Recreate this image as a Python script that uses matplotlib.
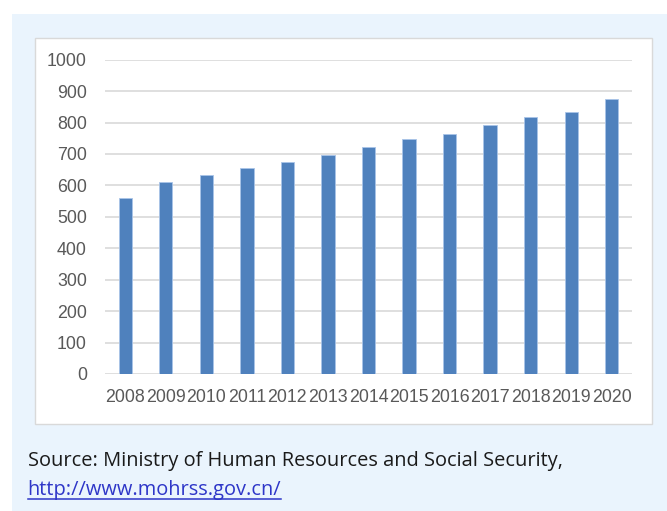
import matplotlib
matplotlib.use("Agg")
import matplotlib.pyplot as plt
from matplotlib.patches import Rectangle
from matplotlib.lines import Line2D

# Data
years = ["2008", "2009", "2010", "2011", "2012", "2013", "2014",
         "2015", "2016", "2017", "2018", "2019", "2020"]
values = [561, 612, 632, 655, 676, 698, 722, 749, 765, 791, 818, 833, 875]
yticks = [0, 100, 200, 300, 400, 500, 600, 700, 800, 900, 1000]

W, H = 667, 511
fig = plt.figure(figsize=(W / 100, H / 100), dpi=100)
fig.patch.set_facecolor("white")

# light blue panel and white chart box (pixel coords -> figure fraction)
def px_rect(x0, y0, x1, y1, **kw):
    return Rectangle((x0 / W, 1 - y1 / H), (x1 - x0) / W, (y1 - y0) / H,
                     transform=fig.transFigure, **kw)

fig.patches.append(px_rect(12, 14, 667, 511, facecolor="#EAF4FD", edgecolor="none", zorder=0))
fig.patches.append(px_rect(34.5, 37.5, 651.5, 423.5, facecolor="white",
                           edgecolor="#D9D9D9", linewidth=1, zorder=1))

ax = fig.add_axes([105 / W, 1 - 374 / H, (632 - 105) / W, (374 - 59.7) / H])
ax.set_facecolor("none")
ax.set_zorder(2)

x = list(range(len(years)))
ax.bar(x, values, width=0.33, color="#4F81BD", edgecolor="#A9C4E8",
       linewidth=0.6, zorder=3)

ax.set_xlim(-0.5, len(years) - 0.5)
ax.set_ylim(0, 1000)
ax.set_yticks(yticks)
ax.set_xticks(x)
ax.set_xticklabels(years)
ax.yaxis.grid(True, color="#D9D9D9", linewidth=1.2)
ax.set_axisbelow(True)
for s in ax.spines.values():
    s.set_visible(False)
ax.tick_params(length=0, labelcolor="#595959", labelsize=12.8)
ax.tick_params(axis="y", pad=13)
ax.tick_params(axis="x", pad=11)
for lab in ax.get_xticklabels() + ax.get_yticklabels():
    lab.set_fontfamily("Liberation Sans")

# source note
fig.text(27.5 / W, 1 - 466 / H, "Source: Ministry of Human Resources and Social Security,",
         fontsize=14.4, family="Open Sans", color="#1A1A1A", va="baseline", ha="left")
link = fig.text(27.5 / W, 1 - 495 / H, "http://www.mohrss.gov.cn/",
                fontsize=14.4, family="Open Sans", color="#2E36C8", va="baseline", ha="left")

# underline the link
fig.canvas.draw()
bb = link.get_window_extent()
fig.lines.append(Line2D([bb.x0 / W, bb.x1 / W], [1 - 498.5 / H, 1 - 498.5 / H],
                        transform=fig.transFigure, color="#2E36C8", linewidth=1.1))

fig.savefig("out.png", dpi=100)
